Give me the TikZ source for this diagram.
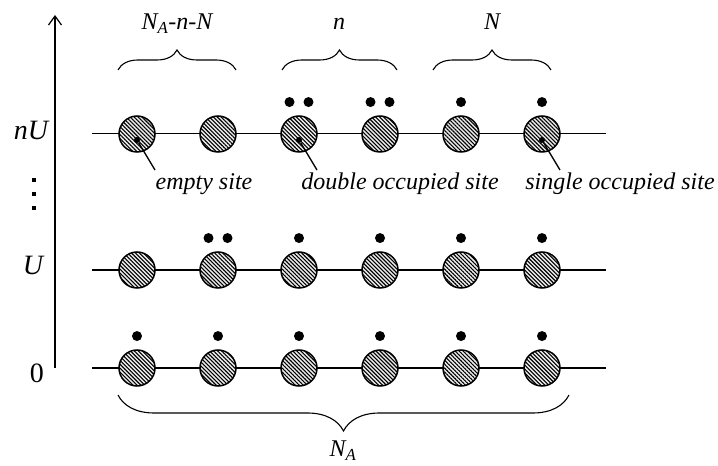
\documentclass[tikz,border=0pt]{standalone}
\usepackage{fontspec}
\setmainfont{Liberation Serif}
\usetikzlibrary{arrows.meta, positioning, calc, decorations.pathreplacing, patterns.meta}
\tikzset{
  >=Stealth,
  site/.style={circle, draw, line width=1.5pt, minimum size=36pt, inner sep=0pt,
    preaction={fill=gray!15}, pattern={Lines[angle=-45, distance=2.8pt, line width=1.1pt]}},
  electron/.style={circle, fill, minimum size=10pt, inner sep=0pt},
  marker/.style={circle, fill, minimum size=6pt, inner sep=0pt},
  chain/.style={line width=1.6pt},
  chainthin/.style={line width=1pt},
  pointer/.style={line width=1.3pt},
  axisline/.style={line width=1.6pt, -{Straight Barb[length=9pt, width=13pt, line width=1.2pt]}},
  bracetop/.style={decorate, decoration={brace, amplitude=20pt}, line width=1.1pt},
  bracebot/.style={decorate, decoration={brace, mirror, amplitude=36pt}, line width=1.1pt},
  sitelabel/.style={font=\fontsize{24}{28}\selectfont\itshape, inner sep=0pt},
  bracelabel/.style={font=\fontsize{24}{28}\selectfont\itshape, inner sep=0pt},
  levellabel/.style={font=\fontsize{28}{32}\selectfont, inner sep=0pt},
  vdot/.style={rectangle, fill, minimum size=4.5pt, inner sep=0pt}
}

\begin{document}
\begin{tikzpicture}[x=1pt, y=1pt]
    \useasboundingbox (0,0) rectangle (718,466);

    % energy axis
    \coordinate (ax-bot) at (55,98);
    \coordinate (ax-top) at (55,451);
    \draw[axisline] (ax-bot) -- (ax-top);
    \node[levellabel, anchor=base] (lv-t) at (31,326) {\itshape nU};
    \node[levellabel, anchor=base] (lv-u) at (33,191) {\itshape U};
    \node[levellabel, anchor=base] (lv-z) at (37,83) {0};
    \foreach \k/\y in {1/286, 2/272, 3/258}
        \node[vdot] (vd-\k) at (34,\y) {};

    % chains
    \foreach \r/\y/\w in {t/332/chainthin, u/196/chain, z/98/chain} {
        \coordinate (\r-start) at (92,\y);
        \coordinate (\r-end) at (606,\y);
        \draw[\w] (\r-start) -- (\r-end);
        \foreach \c/\x in {1/137, 2/218, 3/299, 4/380, 5/461, 6/542}
            \node[site] (s-\r-\c) at (\x,\y) {};
    }

    % single electrons
    \foreach \r/\c in {t/5, t/6, u/3, u/4, u/5, u/6, z/1, z/2, z/3, z/4, z/5, z/6}
        \node[electron, above=8pt of s-\r-\c] (e-\r-\c) {};

    % double occupied sites
    \foreach \r/\c in {t/3, t/4, u/2} {
        \node[electron, above=8pt of s-\r-\c, xshift=-9.5pt] (e-\r-\c-a) {};
        \node[electron, above=8pt of s-\r-\c, xshift=9.5pt] (e-\r-\c-b) {};
    }

    % pointers to labels
    \foreach \n/\c/\x in {empty/1/155, double/3/317, single/6/560} {
        \node[marker, below=6pt of s-t-\c.center, anchor=center] (m-\n) {};
        \coordinate (p-\n) at (\x,296);
        \draw[pointer] (m-\n) -- (p-\n);
    }
    \node[sitelabel, anchor=base] (l-empty) at (204,276) {empty site};
    \node[sitelabel, anchor=base] (l-double) at (400,276) {double occupied site};
    \node[sitelabel, anchor=base] (l-single) at (620,276) {single occupied site};

    % braces
    \coordinate (b1-l) at (118,396); \coordinate (b1-r) at (236,396);
    \coordinate (b2-l) at (282,396); \coordinate (b2-r) at (397,396);
    \coordinate (b3-l) at (433,396); \coordinate (b3-r) at (551,396);
    \draw[bracetop] (b1-l) -- (b1-r);
    \draw[bracetop] (b2-l) -- (b2-r);
    \draw[bracetop] (b3-l) -- (b3-r);
    \node[bracelabel, anchor=base] (bl-1) at (177,436) {N\textsubscript{A}-n-N};
    \node[bracelabel, anchor=base] (bl-2) at (339,436) {n};
    \node[bracelabel, anchor=base] (bl-3) at (492,436) {N};

    \coordinate (ba-l) at (118,71); \coordinate (ba-r) at (569,71);
    \draw[bracebot] (ba-l) -- (ba-r);
    \node[bracelabel, anchor=base] (bl-a) at (343,9) {N\textsubscript{A}};
\end{tikzpicture}
\end{document}
